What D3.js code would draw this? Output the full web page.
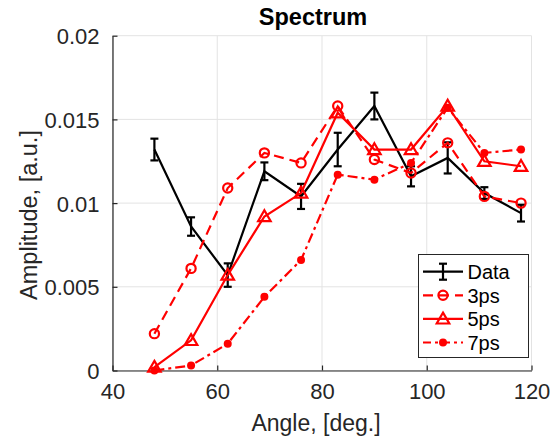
<!DOCTYPE html>
<html>
<head>
<meta charset="utf-8">
<script src="https://cdn.jsdelivr.net/npm/d3@7.9.0/dist/d3.min.js"></script>
<style>
  body { margin: 0; background: #fff; }
  svg { display: block; font-family: "Liberation Sans", Arial, Helvetica, sans-serif; }
</style>
</head>
<body>
<svg id="chart" width="553" height="440"></svg>
<script>
// angles (deg.)
const angles = [48, 55, 62, 69, 76, 83, 90, 97, 104, 111, 118];

// measured data with error bars
const dataValues = [0.0132, 0.0086, 0.0057, 0.0119, 0.0104, 0.0132, 0.0158, 0.0116, 0.0127, 0.0106, 0.0094];
const dataErrors = [0.00065, 0.00055, 0.0007, 0.00053, 0.00075, 0.001, 0.0008, 0.0006, 0.00093, 0.00035, 0.0005];

// simulations
const ps3 = [0.0022, 0.0061, 0.0109, 0.0130, 0.0124, 0.0158, 0.0126, 0.0118, 0.0136, 0.0104, 0.0100];
const ps5 = [0.0002, 0.0018, 0.0057, 0.0092, 0.0106, 0.0154, 0.0132, 0.0132, 0.0158, 0.0125, 0.0122];
const ps7 = [0.0000, 0.0003, 0.0016, 0.0044, 0.0066, 0.0117, 0.0114, 0.0124, 0.0157, 0.0130, 0.0132];

const xTicks = [40, 60, 80, 100, 120];
const xTickLabels = ['40', '60', '80', '100', '120'];
const yTicks = [0, 0.005, 0.01, 0.015, 0.02];
const yTickLabels = ['0', '0.005', '0.01', '0.015', '0.02'];

const legendLabels = ['Data', '3ps', '5ps', '7ps'];

const red = '#ff0000';
const axisColor = '#262626';
const gridColor = '#e3e3e3';

const plotLeft = 112.5, plotRight = 531.5, plotTop = 35.7, plotBottom = 370.5;

const x = d3.scaleLinear().domain([40, 120]).range([plotLeft, plotRight]);
const y = d3.scaleLinear().domain([0, 0.02]).range([plotBottom, plotTop]);

const svg = d3.select('#chart');

// grid
const grid = svg.append('g');
grid.selectAll('.gx')
    .data(xTicks)
    .enter()
    .append('line')
    .attr('x1', d => x(d)).attr('x2', d => x(d))
    .attr('y1', plotTop).attr('y2', plotBottom)
    .attr('stroke', gridColor).attr('stroke-width', 1);
grid.selectAll('.gy')
    .data(yTicks)
    .enter()
    .append('line')
    .attr('x1', plotLeft).attr('x2', plotRight)
    .attr('y1', d => y(d)).attr('y2', d => y(d))
    .attr('stroke', gridColor).attr('stroke-width', 1);

// axes
const xAxis = d3.axisBottom(x)
    .tickValues(xTicks)
    .tickFormat((d, i) => xTickLabels[i])
    .tickSizeInner(-5)
    .tickSizeOuter(0);
const yAxis = d3.axisLeft(y)
    .tickValues(yTicks)
    .tickFormat((d, i) => yTickLabels[i])
    .tickSizeInner(-5)
    .tickSizeOuter(0);

const gx = svg.append('g').attr('transform', `translate(0,${plotBottom})`).call(xAxis);
const gy = svg.append('g').attr('transform', `translate(${plotLeft},0)`).call(yAxis);

[gx, gy].forEach(g => {
    g.select('.domain').attr('stroke', axisColor).attr('stroke-width', 1.2);
    g.selectAll('.tick line').attr('stroke', axisColor).attr('stroke-width', 1.2);
    g.selectAll('.tick text')
        .attr('fill', axisColor)
        .style('font-size', '22px')
        .style('font-family', '"Liberation Sans", Arial, sans-serif');
});
gx.selectAll('.tick text').attr('dy', '0.71em').attr('y', 13);
gy.selectAll('.tick text').attr('dy', '0.36em').attr('x', -13);

// titles
svg.append('text')
    .attr('x', 313).attr('y', 25)
    .attr('text-anchor', 'middle')
    .attr('font-weight', 'bold')
    .attr('font-size', 23.5)
    .attr('fill', '#000')
    .text('Spectrum');

svg.append('text')
    .attr('x', 316).attr('y', 431)
    .attr('text-anchor', 'middle')
    .attr('font-size', 23)
    .attr('fill', axisColor)
    .text('Angle, [deg.]');

svg.append('text')
    .attr('transform', 'translate(37,215) rotate(-90)')
    .attr('text-anchor', 'middle')
    .attr('font-size', 23.5)
    .attr('fill', axisColor)
    .text('Amplitude, [a.u.]');

const line = d3.line()
    .x(d => x(d[0]))
    .y(d => y(d[1]));

// Data with error bars
const dataPts = angles.map((a, i) => [a, dataValues[i], dataErrors[i]]);
const plot = svg.append('g');

plot.append('path')
    .datum(dataPts)
    .attr('d', line)
    .attr('fill', 'none')
    .attr('stroke', '#000')
    .attr('stroke-width', 2.2);

function errorBar(g, cx, yLo, yHi, cap) {
    g.append('line').attr('x1', cx).attr('x2', cx).attr('y1', yLo).attr('y2', yHi)
        .attr('stroke', '#000').attr('stroke-width', 2.2);
    g.append('line').attr('x1', cx - cap).attr('x2', cx + cap).attr('y1', yLo).attr('y2', yLo)
        .attr('stroke', '#000').attr('stroke-width', 2.2);
    g.append('line').attr('x1', cx - cap).attr('x2', cx + cap).attr('y1', yHi).attr('y2', yHi)
        .attr('stroke', '#000').attr('stroke-width', 2.2);
}

dataPts.forEach(d => {
    errorBar(plot, x(d[0]), y(d[1] - d[2]), y(d[1] + d[2]), 4);
});

// marker helpers
const triangle = d3.symbol().type(d3.symbolTriangle).size(68);

function drawSeries(values, dash, marker) {
    const pts = angles.map((a, i) => [a, values[i]]);
    plot.append('path')
        .datum(pts)
        .attr('d', line)
        .attr('fill', 'none')
        .attr('stroke', red)
        .attr('stroke-width', 2.2)
        .attr('stroke-dasharray', dash);
    const m = plot.append('g');
    pts.forEach(p => drawMarker(m, x(p[0]), y(p[1]), marker));
}

function drawMarker(g, cx, cy, marker) {
    if (marker === 'circle') {
        g.append('circle').attr('cx', cx).attr('cy', cy).attr('r', 4.6)
            .attr('fill', 'none').attr('stroke', red).attr('stroke-width', 2.2);
    } else if (marker === 'triangle') {
        g.append('path').attr('d', triangle())
            .attr('transform', `translate(${cx},${cy + 1})`)
            .attr('fill', 'none').attr('stroke', red).attr('stroke-width', 2.2);
    } else {
        g.append('circle').attr('cx', cx).attr('cy', cy).attr('r', 4)
            .attr('fill', red);
    }
}

drawSeries(ps3, '10,6', 'circle');
drawSeries(ps5, null, 'triangle');
drawSeries(ps7, '10,4,3,4', 'dot');

// legend
const lg = svg.append('g');
lg.append('rect')
    .attr('x', 418.5).attr('y', 254.5)
    .attr('width', 110).attr('height', 103)
    .attr('fill', '#fff')
    .attr('stroke', axisColor)
    .attr('stroke-width', 1);

const legendStyles = [
    { color: '#000', dash: null, marker: 'errorbar' },
    { color: red, dash: '10,6', marker: 'circle' },
    { color: red, dash: null, marker: 'triangle' },
    { color: red, dash: '8,4,3,4', marker: 'dot' }
];

legendLabels.forEach((label, i) => {
    const cy = 271.7 + i * 23.6;
    const s = legendStyles[i];
    lg.append('line')
        .attr('x1', 423).attr('x2', 463)
        .attr('y1', cy).attr('y2', cy)
        .attr('stroke', s.color)
        .attr('stroke-width', 2.2)
        .attr('stroke-dasharray', s.dash);
    if (s.marker === 'errorbar') {
        errorBar(lg, 443, cy - 8, cy + 8, 4);
    } else {
        drawMarker(lg, 443, cy, s.marker);
    }
    lg.append('text')
        .attr('x', 467.5).attr('y', cy + 7.2)
        .attr('font-size', 20)
        .attr('fill', '#000')
        .text(label);
});
</script>
</body>
</html>
